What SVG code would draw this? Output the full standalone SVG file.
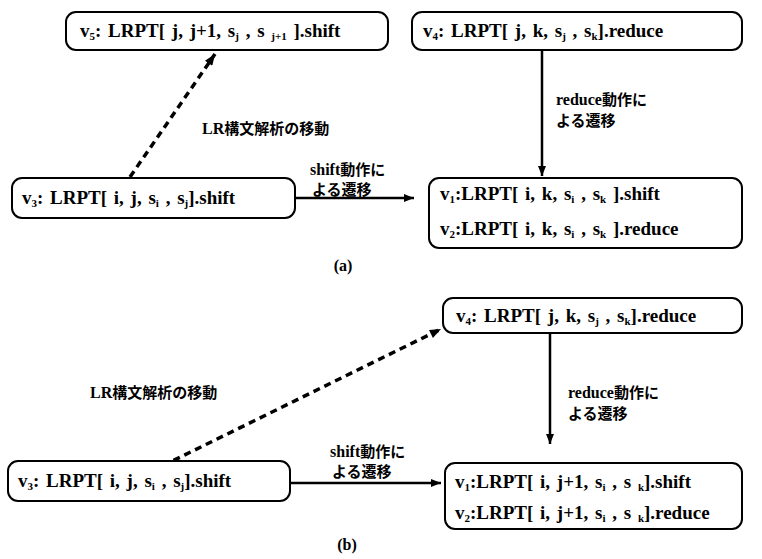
<svg xmlns="http://www.w3.org/2000/svg" width="762" height="559" viewBox="0 0 762 559">
<style>
.box{fill:#fff;stroke:#000;stroke-width:2}
.t{font-family:"Liberation Serif",serif;font-weight:bold;font-size:19px;word-spacing:2px;fill:#000}
.s{font-size:11px}
.j{font-family:"Noto Sans CJK JP",sans-serif;font-weight:bold;font-size:15px;fill:#000}
.lr{font-family:"Liberation Serif",serif;font-weight:bold;font-size:16px;fill:#000}
.solid{stroke:#000;stroke-width:2.5;fill:none}
.dash{stroke:#000;stroke-width:3.5;fill:none;stroke-dasharray:7 5}
</style>
<defs>
<marker id="ah" viewBox="0 0 10 8" refX="10" refY="4" markerWidth="10" markerHeight="8" markerUnits="userSpaceOnUse" orient="auto">
<path d="M0,0 L10,4 L0,8 Z" fill="#000"/>
</marker>
<marker id="ahd" viewBox="0 0 10 8" refX="10" refY="4" markerWidth="12" markerHeight="9" markerUnits="userSpaceOnUse" orient="auto">
<path d="M0,0 L10,4 L0,8 Z" fill="#000"/>
</marker>
</defs>

<g id="connectors">
<path class="dash" d="M130,177 L215,54" marker-end="url(#ahd)"/>
<path class="solid" d="M542,50 L542,176" marker-end="url(#ah)"/>
<path class="solid" d="M295,198 L414,198" marker-end="url(#ah)"/>
<path class="dash" d="M152,471 L441,329" marker-end="url(#ahd)"/>
<path class="solid" d="M550,333 L550,444" marker-end="url(#ah)"/>
<path class="solid" d="M290,483 L441,483" marker-end="url(#ah)"/>
</g>

<g id="labels">
<text class="lr" x="202" y="134">LR<tspan class="j">構文解析の移動</tspan></text>
<text class="lr" x="556" y="105">reduce<tspan class="j">動作に</tspan></text>
<text class="j" x="556" y="126">よる遷移</text>
<text class="lr" x="310" y="175">shift<tspan class="j">動作に</tspan></text>
<text class="j" x="312" y="195">よる遷移</text>
<text class="lr" x="343" y="271" text-anchor="middle">(a)</text>

<text class="lr" x="90" y="398">LR<tspan class="j">構文解析の移動</tspan></text>
<text class="lr" x="568" y="398">reduce<tspan class="j">動作に</tspan></text>
<text class="j" x="568" y="419">よる遷移</text>
<text class="lr" x="330" y="457">shift<tspan class="j">動作に</tspan></text>
<text class="j" x="332" y="477">よる遷移</text>
<text class="lr" x="347" y="550" text-anchor="middle">(b)</text>
</g>

<g id="a-v5">
<rect class="box" x="66" y="12" width="322" height="38" rx="10"/>
<text class="t" x="80" y="37">v<tspan class="s" dy="3">5</tspan><tspan dy="-3">:  LRPT[ j, j+1,  s</tspan><tspan class="s" dy="3">j</tspan><tspan dy="-3"> , s </tspan><tspan class="s" dy="3">j+1</tspan><tspan dy="-3"> ].shift</tspan></text>
</g>
<g id="a-v4">
<rect class="box" x="412" y="12" width="330" height="38" rx="10"/>
<text class="t" x="423" y="37">v<tspan class="s" dy="3">4</tspan><tspan dy="-3">:  LRPT[ j, k,  s</tspan><tspan class="s" dy="3">j</tspan><tspan dy="-3"> , s</tspan><tspan class="s" dy="3">k</tspan><tspan dy="-3">].reduce</tspan></text>
</g>
<g id="a-v3">
<rect class="box" x="12" y="178" width="283" height="40" rx="10"/>
<text class="t" x="22" y="204">v<tspan class="s" dy="3">3</tspan><tspan dy="-3">: LRPT[ i, j,  s</tspan><tspan class="s" dy="3">i</tspan><tspan dy="-3"> , s</tspan><tspan class="s" dy="3">j</tspan><tspan dy="-3">].shift</tspan></text>
</g>
<g id="a-v1v2">
<rect class="box" x="429" y="178" width="313" height="70" rx="10"/>
<text class="t" x="440" y="200">v<tspan class="s" dy="3">1</tspan><tspan dy="-3">:LRPT[ i, k,  s</tspan><tspan class="s" dy="3">i</tspan><tspan dy="-3"> , s</tspan><tspan class="s" dy="3">k</tspan><tspan dy="-3"> ].shift</tspan></text>
<text class="t" x="440" y="235">v<tspan class="s" dy="3">2</tspan><tspan dy="-3">:LRPT[ i, k,  s</tspan><tspan class="s" dy="3">i</tspan><tspan dy="-3"> , s</tspan><tspan class="s" dy="3">k</tspan><tspan dy="-3"> ].reduce</tspan></text>
</g>

<g id="b-v4">
<rect class="box" x="443" y="298" width="299" height="35" rx="10"/>
<text class="t" x="456" y="322">v<tspan class="s" dy="3">4</tspan><tspan dy="-3">:  LRPT[ j, k,  s</tspan><tspan class="s" dy="3">j</tspan><tspan dy="-3"> , s</tspan><tspan class="s" dy="3">k</tspan><tspan dy="-3">].reduce</tspan></text>
</g>
<g id="b-v3">
<rect class="box" x="8" y="461" width="282" height="40" rx="10"/>
<text class="t" x="18" y="487">v<tspan class="s" dy="3">3</tspan><tspan dy="-3">:  LRPT[ i, j,  s</tspan><tspan class="s" dy="3">i</tspan><tspan dy="-3"> , s</tspan><tspan class="s" dy="3">j</tspan><tspan dy="-3">].shift</tspan></text>
</g>
<g id="b-v1v2">
<rect class="box" x="445" y="463" width="297" height="66" rx="10"/>
<text class="t" x="455" y="488">v<tspan class="s" dy="3">1</tspan><tspan dy="-3">:LRPT[ i, j+1,  s</tspan><tspan class="s" dy="3">i</tspan><tspan dy="-3"> , s </tspan><tspan class="s" dy="3">k</tspan><tspan dy="-3">].shift</tspan></text>
<text class="t" x="455" y="519">v<tspan class="s" dy="3">2</tspan><tspan dy="-3">:LRPT[ i, j+1,  s</tspan><tspan class="s" dy="3">i</tspan><tspan dy="-3"> , s </tspan><tspan class="s" dy="3">k</tspan><tspan dy="-3">].reduce</tspan></text>
</g>
</svg>
